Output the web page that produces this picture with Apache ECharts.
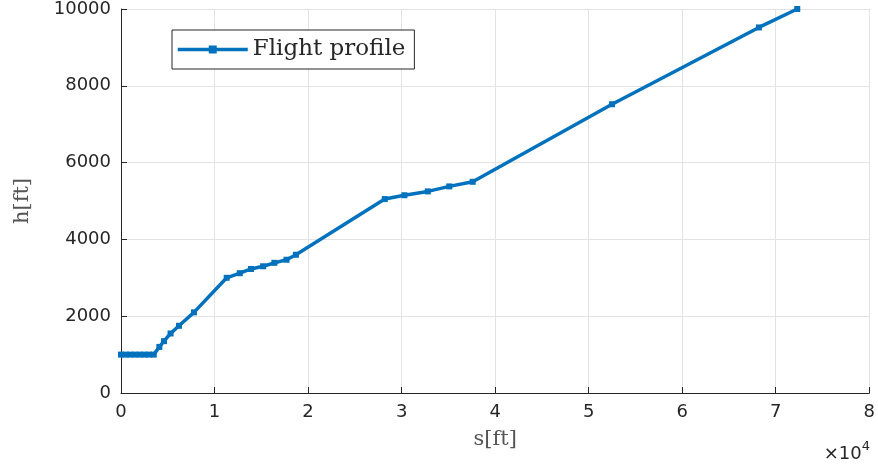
<!DOCTYPE html>
<html>
<head>
<meta charset="utf-8">
<script src="https://cdn.jsdelivr.net/npm/echarts@6/dist/echarts.min.js"></script>
<style>html,body{margin:0;padding:0;background:#fff}#c{width:878px;height:471px}</style>
</head>
<body>
<div id="c"></div>
<script>
var sValues = [0, 500, 1000, 1500, 2000, 2500, 3000, 3500, 4100, 4600, 5300, 6200, 7800, 11300, 12700, 13900, 15200, 16400, 17700, 18700, 28200, 30300, 32800, 35100, 37600, 52500, 68200, 72300];
var hValues = [1000, 1000, 1000, 1000, 1000, 1000, 1000, 1000, 1200, 1350, 1550, 1750, 2100, 3000, 3120, 3230, 3300, 3390, 3470, 3600, 5050, 5150, 5250, 5380, 5500, 7520, 9520, 10000];
var xTicks = [0, 1, 2, 3, 4, 5, 6, 7, 8];
var yTicks = [0, 2000, 4000, 6000, 8000, 10000];
var seriesName = 'Flight profile';

var pts = sValues.map(function (s, i) { return [s, hValues[i]]; });
var chart = echarts.init(document.getElementById('c'));
var axisCol = '#262626';
var gridCol = '#e3e3e3';
var serif = 'DejaVu Serif, Liberation Serif, serif';
var sans = 'DejaVu Sans, Liberation Sans, Arial, sans-serif';
chart.setOption({
  animation: false,
  grid: { left: 121, right: 7, top: 8, bottom: 78 },
  legend: {
    left: 172, top: 30, padding: [8, 9, 8, 4],
    borderColor: axisCol, borderWidth: 1, backgroundColor: '#fff',
    itemWidth: 70, itemHeight: 10, itemGap: 4,
    lineStyle: { width: 3.5 },
    textStyle: { fontFamily: serif, fontSize: 23, color: axisCol },
    data: [seriesName]
  },
  xAxis: {
    type: 'value', min: 0, max: 80000, interval: 10000,
    name: 's[ft]', nameLocation: 'middle', nameGap: 36,
    nameTextStyle: { fontFamily: serif, fontSize: 21, color: '#555' },
    axisLine: { show: true, onZero: false, lineStyle: { color: axisCol, width: 1 } },
    axisTick: { show: true, inside: true, length: 6, lineStyle: { color: axisCol } },
    axisLabel: { fontFamily: sans, fontSize: 18, color: axisCol, margin: 10,
      formatter: function (v) { return String(xTicks[Math.round(v / 10000)]); } },
    splitLine: { show: true, lineStyle: { color: gridCol, width: 1 } }
  },
  yAxis: {
    type: 'value', min: 0, max: 10000, interval: 2000,
    name: 'h[ft]', nameLocation: 'middle', nameGap: 88,
    nameTextStyle: { fontFamily: serif, fontSize: 21, color: '#555' },
    axisLine: { show: true, onZero: false, lineStyle: { color: axisCol, width: 1 } },
    axisTick: { show: true, inside: true, length: 6, lineStyle: { color: axisCol } },
    axisLabel: { fontFamily: sans, fontSize: 18, color: axisCol, margin: 10,
      formatter: function (v) { return yTicks.indexOf(v) >= 0 ? String(v) : ''; } },
    splitLine: { show: true, lineStyle: { color: gridCol, width: 1 } }
  },
  graphic: [{
    type: 'text', right: 8, top: 440,
    style: {
      text: '{a|×10}{b|4}',
      rich: {
        a: { fontFamily: sans, fontSize: 18, fill: axisCol, verticalAlign: 'bottom' },
        b: { fontFamily: sans, fontSize: 13, fill: axisCol, verticalAlign: 'top', padding: [0, 0, 10, 0] }
      }
    }
  }],
  series: [{
    name: seriesName, type: 'line', data: pts, clip: false,
    symbol: 'rect', symbolSize: 6, showAllSymbol: true,
    lineStyle: { color: '#0072BD', width: 3.5 },
    itemStyle: { color: '#0072BD' }
  }]
});
</script>
</body>
</html>
